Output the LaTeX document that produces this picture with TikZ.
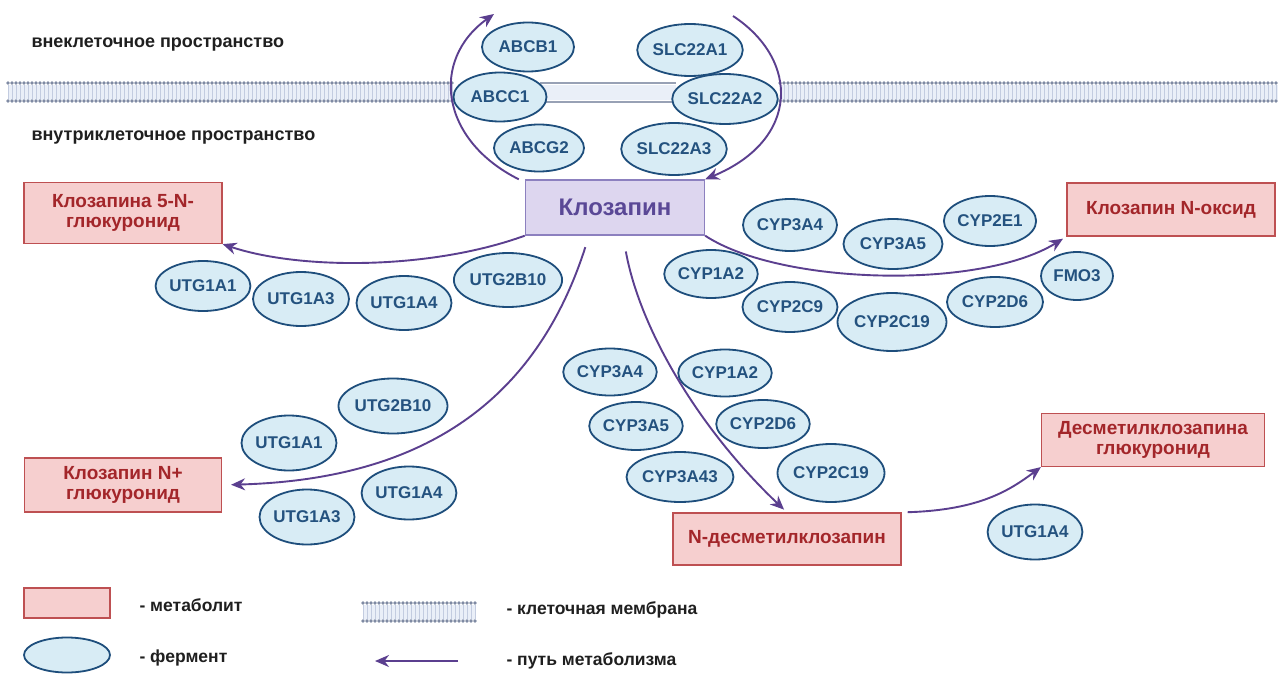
\documentclass[tikz,border=0pt]{standalone}
\usepackage{fontspec}
\setmainfont{Liberation Sans}
\usetikzlibrary{shapes.geometric,arrows.meta}

\definecolor{enzfill}{HTML}{D8ECF5}
\definecolor{enzline}{HTML}{1E4E7C}
\definecolor{enztext}{HTML}{24527F}
\definecolor{metfill}{HTML}{F6CFCF}
\definecolor{metline}{HTML}{BE5052}
\definecolor{mettext}{HTML}{A3262A}
\definecolor{drugfill}{HTML}{DDD6EF}
\definecolor{drugline}{HTML}{8C80BF}
\definecolor{drugtext}{HTML}{5A4896}
\definecolor{routecol}{HTML}{5B3F8F}
\definecolor{memdot}{HTML}{7F8AA3}
\definecolor{memtail}{HTML}{C3CCE0}
\definecolor{memband}{HTML}{EAEFF8}

\newcommand{\txtsize}[1]{\fontsize{#1}{#1}\selectfont\bfseries}

% membrane strip: x from, x to, top y
\newcommand{\membrane}[3]{%
  \fill[memband] (#1,#3+2) rectangle (#2,#3+17);
  \pgfmathtruncatemacro\mxnext{#1+4}
  \foreach \mx in {#1,\mxnext,...,#2} {
    \draw[memtail, line width=0.8pt] (\mx,#3+2) -- (\mx,#3+16);
    \fill[memdot] (\mx,#3) circle (1.9pt);
    \fill[memdot] (\mx,#3+18) circle (1.9pt);
  }
}

\tikzset{
  enzyme/.style={ellipse, draw=enzline, fill=enzfill, line width=1.8pt, text=enztext,
    font={\txtsize{17}}, inner sep=0pt, minimum width=93pt, minimum height=49pt},
  metab/.style={rectangle, draw=metline, fill=metfill, line width=1.2pt, text=mettext,
    font={\fontsize{19}{20}\selectfont\bfseries}, align=center},
  drug/.style={rectangle, draw=drugline, fill=drugfill, line width=1.4pt, text=drugtext,
    font={\txtsize{24}}},
  route/.style={draw=routecol, line width=1.9pt, -{Stealth[length=14pt,width=12pt]}},
  space/.style={anchor=west, font={\txtsize{18}}, text=black!88},
  legend/.style={anchor=west, font={\txtsize{17.5}}, text=black!88}
}

\begin{document}
\begin{tikzpicture}[x=1pt, y=-1pt]
  \useasboundingbox (0,0) rectangle (1280,674);
  \fill[white] (0,0) rectangle (1280,674);

  % membrane
  \membrane{8}{452}{83}
  \membrane{780}{1278}{83}
  \fill[memband] (540,85) rectangle (676,100);
  \draw[memdot!80, line width=2pt] (540,83) -- (676,83) (540,102) -- (676,102);

  \node[space] (outside) at (28,45) {внеклеточное пространство};
  \node[space] (inside) at (28,138) {внутриклеточное пространство};

  \node[drug, minimum width=179pt, minimum height=55pt] (kloz) at (615,207.5) {Клозапин};

  \node[metab, minimum width=198pt, minimum height=61pt] (gluc5) at (123,213) {Клозапина 5-N-\\глюкуронид};
  \node[metab, minimum width=208pt, minimum height=53pt] (nox) at (1171,209.5) {Клозапин N-оксид};
  \node[metab, minimum width=197pt, minimum height=54pt] (nplus) at (123,485) {Клозапин N+\\глюкуронид};
  \node[metab, minimum width=228pt, minimum height=52pt] (ndes) at (787,539) {N-десметилклозапин};
  \node[metab, minimum width=223pt, minimum height=53pt] (desgl) at (1153,440) {Десметилклозапина\\глюкуронид};

  % transporters
  \node[enzyme, minimum width=92pt] (abcb1) at (528,47) {ABCB1};
  \node[enzyme] (abcc1) at (500,97) {ABCC1};
  \node[enzyme, minimum width=90pt, minimum height=47pt] (abcg2) at (539,148) {ABCG2};
  \node[enzyme, minimum width=103pt, minimum height=52pt] (slc22a1) at (690,50) {SLC22A1};
  \node[enzyme, minimum width=101pt, minimum height=50pt] (slc22a2) at (725,99) {SLC22A2};
  \node[enzyme, minimum width=102pt, minimum height=52pt] (slc22a3) at (674,149) {SLC22A3};

  % glucuronidation
  \node[enzyme, minimum width=92pt, minimum height=50pt] (utg1a1) at (203,286) {UTG1A1};
  \node[enzyme, minimum width=96pt, minimum height=54pt] (utg1a3) at (301,299) {UTG1A3};
  \node[enzyme, minimum width=95pt, minimum height=54pt] (utg1a4) at (404,303) {UTG1A4};
  \node[enzyme, minimum width=108pt, minimum height=54pt] (utg2b10) at (508,280) {UTG2B10};
  \node[enzyme, minimum width=109pt, minimum height=55pt] (utg2b10b) at (393,406) {UTG2B10};
  \node[enzyme, minimum width=95pt, minimum height=55pt] (utg1a1b) at (289,443) {UTG1A1};
  \node[enzyme, minimum width=94pt, minimum height=53pt] (utg1a4b) at (409,493) {UTG1A4};
  \node[enzyme, minimum width=95pt, minimum height=55pt] (utg1a3b) at (307,517) {UTG1A3};
  \node[enzyme, minimum width=94pt, minimum height=55pt] (utg1a4c) at (1035,532) {UTG1A4};

  % demethylation
  \node[enzyme, minimum width=90pt, minimum height=47pt] (cyp3a4b) at (610,372) {CYP3A4};
  \node[enzyme, minimum width=92pt, minimum height=48pt] (cyp3a5b) at (636,426) {CYP3A5};
  \node[enzyme, minimum width=105pt, minimum height=50pt] (cyp3a43) at (680,477) {CYP3A43};
  \node[enzyme, minimum width=92pt, minimum height=47pt] (cyp1a2b) at (725,373) {CYP1A2};
  \node[enzyme, minimum width=93pt, minimum height=48pt] (cyp2d6b) at (763,424) {CYP2D6};
  \node[enzyme, minimum width=107pt, minimum height=58pt] (cyp2c19b) at (831,473) {CYP2C19};

  % N-oxidation
  \node[enzyme, minimum width=94pt, minimum height=52pt] (cyp3a4) at (790,225) {CYP3A4};
  \node[enzyme, minimum width=99pt, minimum height=50pt] (cyp3a5) at (893,244) {CYP3A5};
  \node[enzyme, minimum width=92pt, minimum height=50pt] (cyp2e1) at (990,221) {CYP2E1};
  \node[enzyme, minimum width=92pt, minimum height=48pt] (cyp1a2) at (711,274) {CYP1A2};
  \node[enzyme, minimum width=95pt, minimum height=50pt] (cyp2c9) at (790,307) {CYP2C9};
  \node[enzyme, minimum width=109pt, minimum height=58pt] (cyp2c19) at (892,322) {CYP2C19};
  \node[enzyme, minimum width=96pt, minimum height=50pt] (cyp2d6) at (995,302) {CYP2D6};
  \node[enzyme, minimum width=72pt, minimum height=48pt] (fmo3) at (1077,276) {FMO3};

  % pathways
  \coordinate (effluxend) at (494,14);
  \coordinate (uptakestart) at (733,16);
  \draw[route] ([xshift=-6pt]kloz.north west) .. controls (440,140) and (430,60) .. (effluxend);
  \draw[route] (uptakestart) .. controls (800,60) and (800,140) .. (kloz.north east);
  \draw[route] (kloz.south west) .. controls (430,270) and (300,270) .. (gluc5.south east);
  \draw[route, shorten <=12pt, shorten >=9pt] ([xshift=-26pt]kloz.south) .. controls (530,420) and (400,480) .. (nplus.east);
  \draw[route, shorten <=16pt, shorten >=4pt] ([xshift=8pt]kloz.south) .. controls (640,330) and (700,430) .. (ndes.north);
  \draw[route, shorten >=4pt] (kloz.south east) .. controls (780,285) and (980,290) .. (nox.south west);
  \draw[route, shorten <=6pt] (ndes.north east) .. controls (980,510) and (1010,490) .. (desgl.south west);

  % legend
  \node[metab, minimum width=86pt, minimum height=30pt] (legmetab) at (67,603) {};
  \node[enzyme, minimum width=86pt, minimum height=35pt] (legenz) at (67,655) {};
  \membrane{363}{475}{603}
  \coordinate (legrouteA) at (458,661);
  \coordinate (legrouteB) at (375,661);
  \draw[route] (legrouteA) -- (legrouteB);
  \node[legend] (legmetabtxt) at (136,605) {- метаболит};
  \node[legend] (legenztxt) at (136,658) {- фермент};
  \node[legend] (legmemtxt) at (503,610) {- клеточная мембрана};
  \node[legend] (legroutetxt) at (503,661) {- путь метаболизма};
\end{tikzpicture}
\end{document}
